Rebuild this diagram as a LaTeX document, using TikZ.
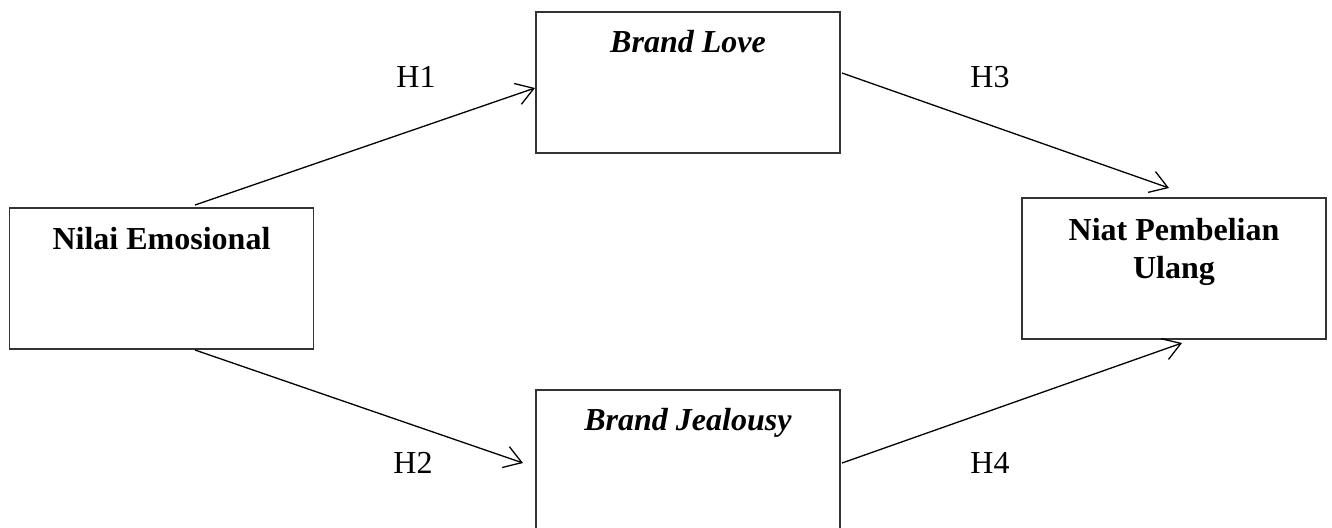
\documentclass[tikz,border=0pt]{standalone}
\usepackage{fontspec}
\setmainfont{Liberation Serif}
\usetikzlibrary{arrows.meta}
\begin{document}
\begin{tikzpicture}[x=0.5pt,y=-0.5pt,
  box/.style={draw=black!80, line width=0.8pt, minimum width=152pt, minimum height=70.5pt, inner sep=0pt},
  txt/.style={font=\fontsize{16}{19}\selectfont, inner sep=0pt, anchor=base, align=center},
  hyp/.style={font=\fontsize{16}{19}\selectfont, inner sep=0pt, anchor=base},
  conn/.style={line width=0.65pt, -{Straight Barb[length=8.5pt,width=11pt,line width=0.65pt]}}
]
\useasboundingbox (0,0) rectangle (1332,527);
\clip (0,0) rectangle (1332,527);
% boxes
\node[box] (ne) at (161.5,278.5) {};
\node[box] (bl) at (688,82.5) {};
\node[box] (bj) at (688,460.5) {};
\node[box] (np) at (1174,268.5) {};
% texts
\node[txt] (ne-t) at (161.5,249) {\textbf{Nilai Emosional}};
\node[txt] (bl-t) at (688,52) {\textbf{\textit{Brand Love}}};
\node[txt] (bj-t) at (688,430) {\textbf{\textit{Brand Jealousy}}};
\node[txt] (np-t) at (1174,278) {\textbf{Niat Pembelian}\\\textbf{Ulang}};
% connector ends
\coordinate (h1s) at (195,205);
\coordinate (h1e) at (535,88);
\coordinate (h2s) at (195,350);
\coordinate (h2e) at (523,463);
\coordinate (h3s) at (842,73);
\coordinate (h3e) at (1169,188);
\coordinate (h4s) at (842,463);
\coordinate (h4e) at (1182,343);
\draw[conn] (h1s) -- (h1e);
\draw[conn] (h2s) -- (h2e);
\draw[conn] (h3s) -- (h3e);
\draw[conn] (h4s) -- (h4e);
% labels
\node[hyp] (l1) at (416,87) {H1};
\node[hyp] (l2) at (413,473) {H2};
\node[hyp] (l3) at (990,87) {H3};
\node[hyp] (l4) at (990,473) {H4};
\end{tikzpicture}
\end{document}
